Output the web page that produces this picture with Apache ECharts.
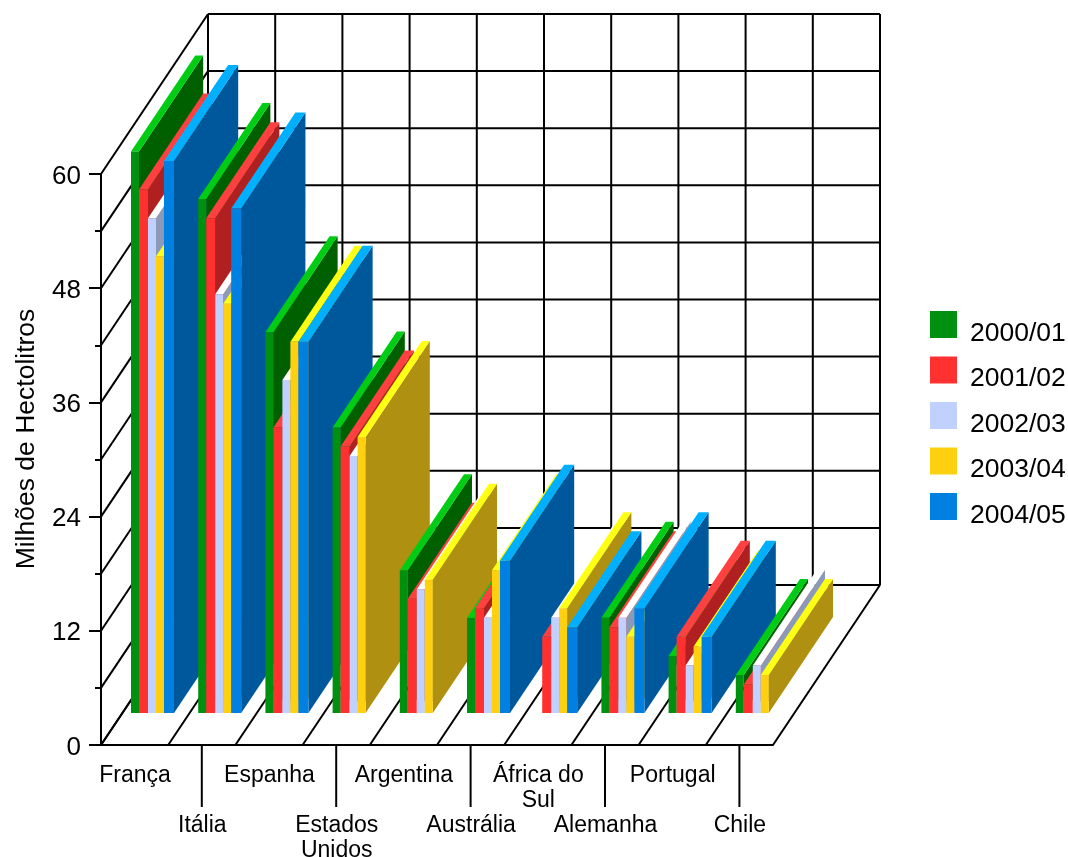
<!DOCTYPE html>
<html><head><meta charset="utf-8">
<style>html,body{margin:0;padding:0;background:#fff}#c{width:1068px;height:857px}</style>
<script src="https://cdn.jsdelivr.net/npm/echarts@6/dist/echarts.min.js"></script>
</head><body><div id="c"></div>
<script>
const categories = ["França","Itália","Espanha","Estados\nUnidos","Argentina","Austrália","África do\nSul","Alemanha","Portugal","Chile"];
const seriesNames = ["2000/01","2001/02","2002/03","2003/04","2004/05"];
const v2000 = [59,54,40,30,15,10,null,10,6,4];
const v2001 = [55,52,30,28,12,11,8,9,8,3];
const v2002 = [52,44,35,27,13,10,10,10,5,5];
const v2003 = [48,43,39,29,14,15,11,8,7,4];
const v2004 = [58,53,39,null,null,16,9,11,8,null];
const allValues = [v2000,v2001,v2002,v2003,v2004];
const yTicks = [0,6,12,18,24,30,36,42,48,54,60];

const frontColors = ['#009010','#ff3030','#c0d0ff','#ffd010','#0080e0'];
const topColors   = ['#00cc14','#ff4040','#ffffff','#ffff14','#00b0ff'];
const sideColors  = ['#006000','#b02020','#8a9ab8','#b09010','#00589c'];

const DX = 107, DY = -160;          // full floor depth in pixels
const BAR_FRONT = 0.2, BAR_DEPTH = 0.6, BAR_SHIFT = -3.6;
const BAR_EDGES = [0,0.119,0.253,0.372,0.491,0.64];  // bar edges as shares of a category band

function line(a,b,w){return {type:'line',silent:true,shape:{x1:a[0],y1:a[1],x2:b[0],y2:b[1]},style:{stroke:'#000',lineWidth:w||2}};}

function renderFrame(p,api){
  const band = api.size([1,0])[0], kids = [];
  const n = categories.length;
  yTicks.forEach(t=>{
    const a = api.coord([0,t]); a[0]-=band/2;
    const back=[a[0]+DX,a[1]+DY];
    kids.push(line(a,back));
    kids.push(line(back,[back[0]+band*n,back[1]]));
  });
  const top = api.coord([0,yTicks[yTicks.length-1]])[1]+DY;
  for(let i=0;i<=n;i++){
    const a = api.coord([i,0]); a[0]-=band/2;
    const back=[a[0]+DX,a[1]+DY];
    kids.push(line(a,back));
    kids.push(line(back,[back[0],top]));
  }
  categories.forEach((c,i)=>{ if(i%2){const a=api.coord([i,0]); kids.push(line(a,[a[0],a[1]+62],2));} });
  return {type:'group',children:kids};
}

function renderBar(s,api){
  const val = api.value(1);
  if(val==null||isNaN(val)) return null;
  const cat = api.value(0);
  const band = api.size([1,0])[0];
  const base = api.coord([cat,0]), tip = api.coord([cat,val]);
  const x0 = base[0]+BAR_SHIFT+BAR_EDGES[s]*band, x1 = base[0]+BAR_SHIFT+BAR_EDGES[s+1]*band;
  const yb = base[1]+DY*BAR_FRONT, yt = tip[1]+DY*BAR_FRONT;
  const dx = DX*BAR_DEPTH, dy = DY*BAR_DEPTH;
  const z2 = cat*10+s;
  const poly=(pts,fill)=>({type:'polygon',silent:true,z2:z2,shape:{points:pts},style:{fill:fill}});
  return {type:'group',children:[
    poly([[x1,yb],[x1+dx,yb+dy],[x1+dx,yt+dy],[x1,yt]],sideColors[s]),
    poly([[x0,yt],[x1,yt],[x1+dx,yt+dy],[x0+dx,yt+dy]],topColors[s]),
    poly([[x0,yb],[x1,yb],[x1,yt],[x0,yt]],frontColors[s])
  ]};
}

const series = [{type:'custom',name:'frame',z:1,silent:true,data:[[0,0]],renderItem:renderFrame,encode:{x:0,y:1}}];
seriesNames.forEach((name,s)=>{
  series.push({type:'custom',name:name,z:2,silent:true,
    itemStyle:{color:frontColors[s]},
    data:allValues[s].map((v,i)=>[i,v==null?'-':v]),
    renderItem:(p,api)=>renderBar(s,api),encode:{x:0,y:1}});
});

const font = '"Liberation Sans",Arial,sans-serif';
const chart = echarts.init(document.getElementById('c'),null,{renderer:'canvas'});
chart.setOption({
  animation:false,backgroundColor:'#fff',
  grid:{left:101,right:295,top:174,bottom:112,containLabel:false,outerBoundsMode:'none'},
  legend:{data:seriesNames,orient:'vertical',left:930,top:311,padding:0,itemWidth:27,itemHeight:27,itemGap:9.5,icon:'rect',selectedMode:false,
    formatter:'{a|{name}}',
    textStyle:{rich:{a:{fontFamily:font,fontSize:26.5,color:'#000',padding:[18,0,0,8]}}}},
  xAxis:{type:'category',data:categories,
    axisLine:{onZero:false,lineStyle:{color:'#000',width:2}},
    axisTick:{alignWithLabel:true,length:12,lineStyle:{color:'#000',width:2}},
    axisLabel:{interval:0,margin:18,hideOverlap:false,color:'#000',fontFamily:font,fontSize:23,lineHeight:25,padding:[0,0,0,1],
      formatter:(v,i)=>i%2?'\n\n'+v:v},
    splitLine:{show:false}},
  yAxis:{type:'value',min:0,max:60,interval:12,
    name:'Milhões de Hectolitros',nameLocation:'middle',nameGap:61,nameRotate:90,
    nameTextStyle:{fontFamily:font,fontSize:26.5,color:'#000',padding:[0,0,0,41]},
    axisLine:{show:true,onZero:false,lineStyle:{color:'#000',width:2}},
    axisTick:{show:true,length:12,lineStyle:{color:'#000',width:2}},
    minorTick:{show:true,splitNumber:2,length:6,lineStyle:{color:'#000',width:2}},
    axisLabel:{margin:20,formatter:'{n|{value}}',rich:{n:{color:'#000',fontFamily:font,fontSize:26,padding:[5,0,0,0]}}},
    splitLine:{show:false},minorSplitLine:{show:false}},
  series:series
});
</script></body></html>
